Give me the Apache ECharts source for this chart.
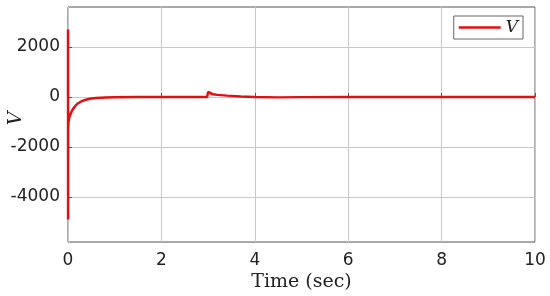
<!DOCTYPE html>
<html>
<head>
<meta charset="utf-8">
<script src="https://cdn.jsdelivr.net/npm/echarts@6/dist/echarts.min.js"></script>
<style>
  html, body { margin: 0; padding: 0; background: #fff; }
  #chart { width: 550px; height: 296px; }
</style>
</head>
<body>
<div id="chart"></div>
<script>
// time (sec) and V
const timeSec = [0, 0.001, 0.002, 0.003, 0.004, 0.01, 0.03, 0.06, 0.1, 0.15, 0.2, 0.3, 0.4, 0.5, 0.6, 0.8, 1.0, 1.5, 2.0, 2.98, 3.0, 3.02, 3.1, 3.2, 3.4, 3.7, 4.0, 4.5, 5.0, 6.0, 8.0, 10.0]
const voltage = [0, 2700, -4900, -2200, -1300, -1000, -800, -650, -500, -370, -270, -160, -100, -60, -40, -20, -10, 0, 0, 0, 200, 140, 110, 85, 55, 20, 0, -15, -5, 0, 0, 0]
const xTicks = [0, 2, 4, 6, 8, 10]
const yTicks = [-4000, -2000, 0, 2000]

const chart = echarts.init(document.getElementById('chart'))

chart.setOption({
  animation: false,
  grid: {
    left: 68, right: 15, top: 7, bottom: 54,
    outerBoundsMode: 'none',
    show: true, borderColor: '#555', borderWidth: 1
  },
  legend: {
    right: 27,
    top: 16,
    orient: 'vertical',
    backgroundColor: '#fff',
    borderColor: '#666',
    borderWidth: 1,
    borderRadius: 0,
    padding: [3, 5, 3, 5],
    itemWidth: 42,
    itemHeight: 16,
    itemGap: 4,
    textStyle: { fontFamily: 'DejaVu Serif', fontStyle: 'italic', fontSize: 17, color: '#222' },
    data: [{ name: 'V', icon: 'path://M0,0 L42,0 L42,2.5 L0,2.5 Z' }]
  },
  xAxis: {
    type: 'value',
    min: 0,
    max: 10,
    interval: 2,
    name: 'Time (sec)',
    nameLocation: 'middle',
    nameGap: 31,
    nameMoveOverlap: false,
    nameTextStyle: { fontFamily: 'DejaVu Serif', fontSize: 19, color: '#222' },
    axisLine: { show: false },
    axisTick: { show: true, inside: true, length: 4, lineStyle: { color: '#555' }, customValues: xTicks },
    axisLabel: { color: '#222', fontSize: 17, fontFamily: 'DejaVu Sans', margin: 10, customValues: xTicks, formatter: v => String(v) },
    splitLine: { show: true, lineStyle: { color: '#c8c8c8', width: 1 } }
  },
  yAxis: {
    type: 'value',
    min: -5800,
    max: 3600,
    name: 'V',
    nameLocation: 'middle',
    nameGap: 42,
    nameRotate: 90,
    nameMoveOverlap: false,
    nameTextStyle: { fontFamily: 'DejaVu Serif', fontStyle: 'italic', fontSize: 19, color: '#222', padding: [0, 0, 0, 12] },
    axisLine: { show: false },
    axisTick: { show: true, inside: true, length: 4, lineStyle: { color: '#555' }, customValues: yTicks },
    axisLabel: { color: '#222', fontSize: 17, fontFamily: 'DejaVu Sans', margin: 8, customValues: yTicks, formatter: v => String(v) },
    splitLine: { show: true, lineStyle: { color: '#c8c8c8', width: 1 } }
  },
  series: [{
    name: 'V',
    type: 'line',
    data: timeSec.map((t, i) => [t, voltage[i]]),
    showSymbol: false,
    color: '#e01010',
    lineStyle: { width: 2.5, color: '#e01010' }
  }]
})
</script>
</body>
</html>
